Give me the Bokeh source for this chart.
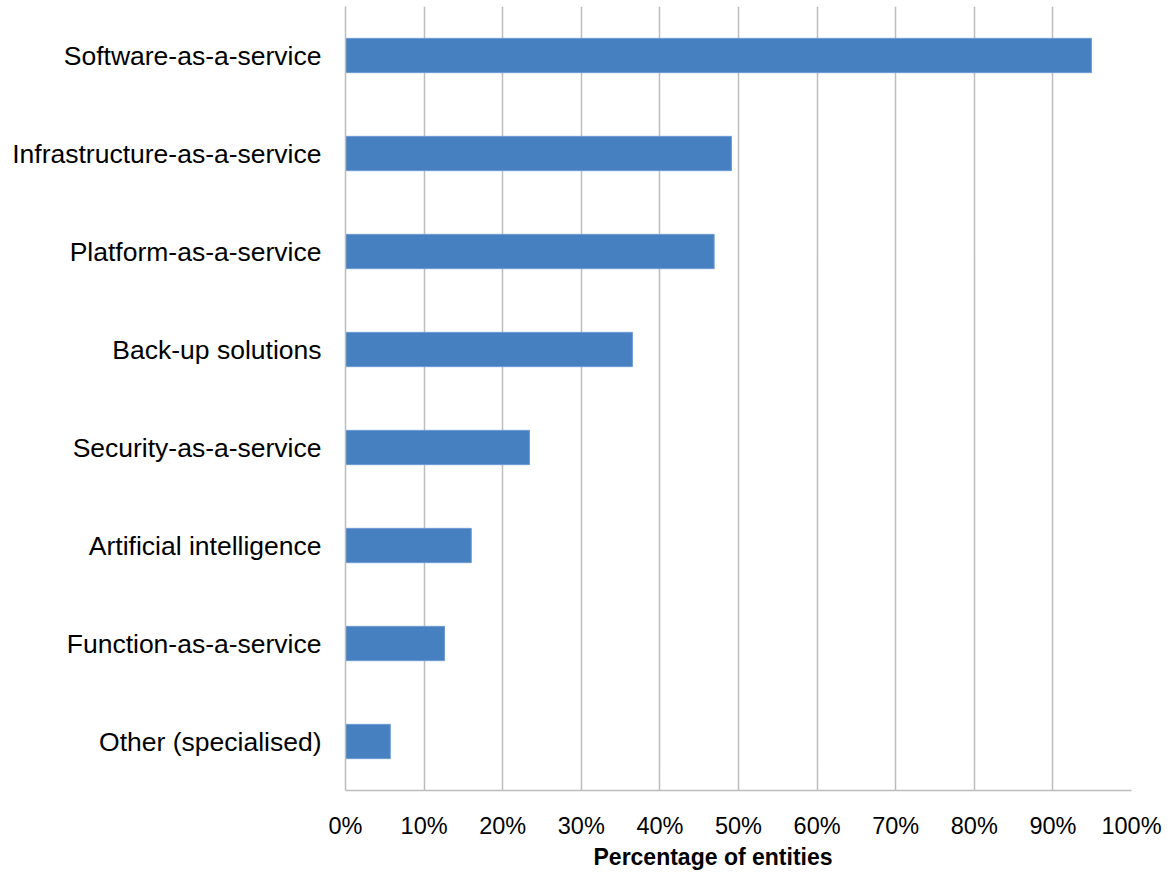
from bokeh.plotting import figure
from bokeh.models import Range1d, FactorRange, NumeralTickFormatter, Title, FixedTicker
from bokeh.embed import file_html
from bokeh.resources import INLINE

categories = [
    "Software-as-a-service",
    "Infrastructure-as-a-service",
    "Platform-as-a-service",
    "Back-up solutions",
    "Security-as-a-service",
    "Artificial intelligence",
    "Function-as-a-service",
    "Other (specialised)",
]
values = [0.949, 0.491, 0.469, 0.365, 0.234, 0.160, 0.126, 0.057]
x_ticks = [0.0, 0.1, 0.2, 0.3, 0.4, 0.5, 0.6, 0.7, 0.8, 0.9, 1.0]
x_title = "Percentage of entities"

FONT = "Liberation Sans"
GRID = "#bdbdbd"

p = figure(
    width=1163, height=870,
    y_range=FactorRange(factors=list(reversed(categories)), range_padding=0),
    x_range=Range1d(0, 1),
    output_backend="svg", toolbar_location=None,
    min_border_left=345, min_border_right=32, min_border_top=6, min_border_bottom=80,
)
p.outline_line_color = None

p.hbar(y=categories, right=values, left=0, height=0.35,
       fill_color="#4680c1", line_color="#6e9bd6", line_width=1)

# x axis
p.xaxis.ticker = FixedTicker(ticks=x_ticks)
p.xaxis.formatter = NumeralTickFormatter(format="0%")
p.xaxis.major_tick_line_color = None
p.xaxis.minor_tick_line_color = None
p.xaxis.major_tick_out = 0
p.xaxis.major_tick_in = 0
p.xaxis.axis_line_color = GRID
p.xaxis.axis_line_width = 1.5
p.xaxis.major_label_text_font = FONT
p.xaxis.major_label_text_font_size = "23.5px"
p.xaxis.major_label_text_color = "#000000"
p.xaxis.major_label_standoff = 22

# y axis
p.yaxis.major_tick_line_color = None
p.yaxis.minor_tick_line_color = None
p.yaxis.major_tick_out = 0
p.yaxis.major_tick_in = 0
p.yaxis.axis_line_color = GRID
p.yaxis.axis_line_width = 1.5
p.yaxis.major_label_text_font = FONT
p.yaxis.major_label_text_font_size = "26.5px"
p.yaxis.major_label_text_color = "#000000"
p.yaxis.major_label_standoff = 24

p.xgrid.grid_line_color = GRID
p.xgrid.grid_line_width = 1.5
p.ygrid.grid_line_color = None

t = Title(text=x_title, align="left", offset=248, text_font=FONT,
          text_font_size="23px", text_font_style="bold", text_color="#000000",
          standoff=0)
p.add_layout(t, "below")

open("out.html", "w").write(file_html(p, INLINE))
